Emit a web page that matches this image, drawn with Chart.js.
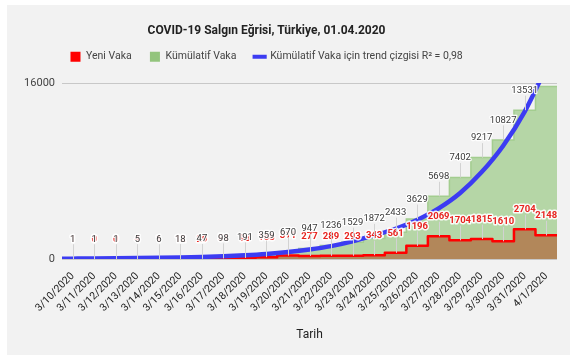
<!DOCTYPE html>
<html>
<head>
<meta charset="utf-8">
<script src="https://cdn.jsdelivr.net/npm/chart.js@4.4.0/dist/chart.umd.min.js"></script>
<style>
  html, body { margin: 0; padding: 0; background: #fff; }
  #wrap { width: 570px; height: 361px; }
</style>
</head>
<body>
<div id="wrap"><canvas id="chart"></canvas></div>
<script>
const dates = ['3/10/2020', '3/11/2020', '3/12/2020', '3/13/2020', '3/14/2020', '3/15/2020',
    '3/16/2020', '3/17/2020', '3/18/2020', '3/19/2020', '3/20/2020', '3/21/2020', '3/22/2020',
    '3/23/2020', '3/24/2020', '3/25/2020', '3/26/2020', '3/27/2020', '3/28/2020', '3/29/2020',
    '3/30/2020', '3/31/2020', '4/1/2020'];
const newCases = [1, 0, 0, 4, 1, 12, 29, 51, 93, 168, 311, 277, 289, 293, 343, 561, 1196,
    2069, 1704, 1815, 1610, 2704, 2148];
const totalCases = [1, 1, 1, 5, 6, 18, 47, 98, 191, 359, 670, 947, 1236, 1529, 1872, 2433,
    3629, 5698, 7402, 9217, 10827, 13531, 15679];
// trend line (one value per day, plus where it starts at the left edge)
const trendStart = 29;
const trendCases = [34, 45, 60, 80, 107, 143, 190, 255, 340, 460, 630, 860, 1170, 1600, 2150,
    2750, 3550, 4600, 6000, 7900, 10300, 13400, 17400];
const yTicks = [0, 16000];

const colors = {
    panel: '#f2f2f2',
    red: '#ff0000',
    brown: '#b2875a',
    green: '#93c47d',
    greenFill: '#b5d6a6',
    greenLine: '#a3cd8f',
    blue: '#3c3cf2',
    text: '#222222',
};

// each value holds for its whole day band
function steps(values) {
    const pts = values.map((v, i) => ({ x: i - 0.5, y: v }));
    pts.push({ x: values.length - 0.5, y: values[values.length - 1] });
    return pts;
}

const panel = {
    id: 'panel',
    beforeDraw(chart) {
        const { ctx } = chart;
        ctx.save();
        ctx.fillStyle = colors.panel;
        ctx.fillRect(7, 5, 563, 350);
        ctx.restore();
    }
};

const shiftBoxes = {
    id: 'shiftBoxes',
    beforeInit(chart) {
        const fit = chart.legend.fit;
        chart.legend.fit = function () {
            fit.call(this);
            this.height = 40.6;
        };
    },
    afterLayout(chart) {
        const dx = -17;
        chart.titleBlock.left += dx;
        chart.titleBlock.right += dx;
        chart.legend.left += dx;
        chart.legend.right += dx;
        chart.legend.top -= 9;
        chart.legend.bottom -= 9;
    }
};

const valueLabels = {
    id: 'valueLabels',
    afterDatasetsDraw(chart) {
        const { ctx, chartArea, scales: { x, y } } = chart;
        const draw = (values, font, color, halo) => {
            values.forEach((v, i) => {
                const px = x.getPixelForValue(i);
                const py = y.getPixelForValue(v);
                const ty = py - 19.5;
                if (ty - 5 < chartArea.top) return;
                ctx.strokeStyle = '#d2d2d2';
                ctx.lineWidth = 1;
                ctx.beginPath();
                ctx.moveTo(Math.round(px) + 0.5, py);
                ctx.lineTo(Math.round(px) + 0.5, ty + 5);
                ctx.stroke();
                ctx.font = font;
                ctx.textAlign = 'center';
                ctx.textBaseline = 'middle';
                ctx.lineJoin = 'round';
                ctx.lineWidth = halo;
                ctx.strokeStyle = 'rgba(255,255,255,0.9)';
                ctx.strokeText(String(v), px, ty);
                ctx.fillStyle = color;
                ctx.fillText(String(v), px, ty);
            });
        };
        ctx.save();
        draw(newCases, 'bold 9.5px Roboto', '#e8231f', 3);
        draw(totalCases, '9.5px Roboto', '#3a3a3a', 2.5);
        ctx.restore();
    }
};

const swatches = [colors.red, colors.green, colors.blue];

new Chart(document.getElementById('chart'), {
    type: 'line',
    data: {
        datasets: [
            {
                label: 'Yeni Vaka',
                data: steps(newCases),
                stepped: 'before',
                borderColor: colors.red,
                borderWidth: 2.5,
                borderJoinStyle: 'round',
                backgroundColor: colors.brown,
                fill: 'origin',
                pointRadius: 0,
                pointStyle: 'rect',
                order: 1,
            },
            {
                label: 'Kümülatif Vaka',
                data: steps(totalCases),
                stepped: 'before',
                borderColor: colors.greenLine,
                borderWidth: 1.5,
                backgroundColor: colors.greenFill,
                fill: 'origin',
                pointRadius: 0,
                pointStyle: 'rect',
                order: 2,
            },
            {
                label: 'Kümülatif Vaka için trend çizgisi R² = 0,98',
                data: [{ x: -0.5, y: trendStart }].concat(trendCases.map((v, i) => ({ x: i, y: v }))),
                borderColor: colors.blue,
                borderWidth: 4.5,
                cubicInterpolationMode: 'monotone',
                fill: false,
                pointRadius: 0,
                pointStyle: 'line',
                order: 0,
            }
        ]
    },
    options: {
        responsive: true,
        maintainAspectRatio: false,
        animation: false,
        layout: { padding: { top: 5, left: 10, right: 13, bottom: 6 } },
        plugins: {
            title: {
                display: true,
                text: 'COVID-19 Salgın Eğrisi, Türkiye, 01.04.2020',
                color: colors.text,
                font: { family: 'Roboto', size: 12, weight: 'bold' },
                padding: { top: 19, bottom: 4 },
            },
            legend: {
                labels: {
                    usePointStyle: true,
                    boxHeight: 10,
                    padding: 18,
                    color: '#444',
                    font: { family: 'Roboto', size: 10.5 },
                    sort: (a, b) => a.datasetIndex - b.datasetIndex,
                    generateLabels(chart) {
                        return Chart.defaults.plugins.legend.labels.generateLabels(chart).map(item => {
                            const c = swatches[item.datasetIndex];
                            return { ...item, fillStyle: c, strokeStyle: c, lineWidth: item.datasetIndex === 2 ? 4 : 0 };
                        });
                    }
                }
            },
            tooltip: { enabled: false },
        },
        scales: {
            x: {
                type: 'linear',
                min: -0.5,
                max: 22.5,
                afterBuildTicks: s => { s.ticks = dates.map((d, i) => ({ value: i })); },
                afterFit: s => { s.height = 96; },
                grid: { display: false },
                border: { display: false },
                ticks: {
                    callback: v => dates[v],
                    autoSkip: false,
                    minRotation: 45,
                    maxRotation: 45,
                    padding: 3,
                    color: colors.text,
                    font: { family: 'Roboto', size: 10.5 },
                },
                title: {
                    display: true,
                    text: 'Tarih',
                    color: colors.text,
                    font: { family: 'Roboto', size: 12 },
                    padding: { top: 4, bottom: 13 },
                }
            },
            y: {
                min: 0,
                max: 16000,
                afterBuildTicks: s => { s.ticks = yTicks.map(v => ({ value: v })); },
                afterFit: s => { s.width = 52; },
                grid: { color: '#c8c8c8', drawTicks: false },
                border: { display: false },
                ticks: {
                    callback: v => String(v),
                    padding: 7,
                    color: '#444',
                    font: { family: 'Roboto', size: 11 },
                }
            }
        }
    },
    plugins: [panel, shiftBoxes, valueLabels]
});
</script>
</body>
</html>
